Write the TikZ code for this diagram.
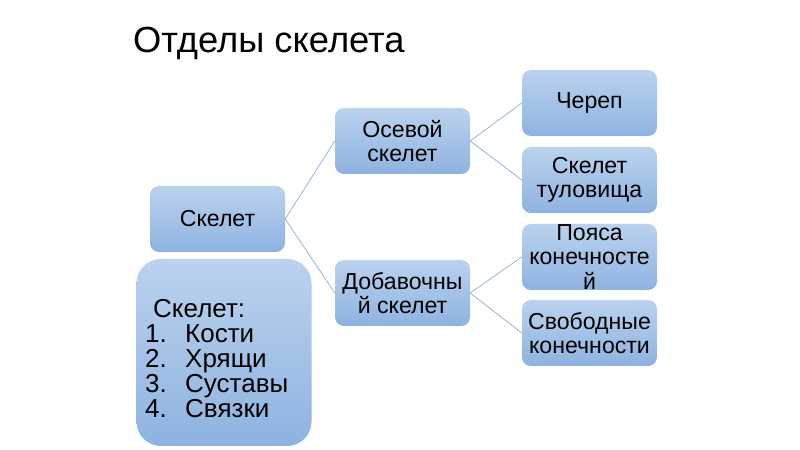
\documentclass[tikz,border=0pt]{standalone}
\usepackage{fontspec}
\setmainfont{Liberation Sans}
\definecolor{boxtop}{HTML}{BBD2EE}
\definecolor{boxbot}{HTML}{8EB3E0}
\definecolor{linkc}{HTML}{94B3D7}
\tikzset{
  box/.style={rounded corners=8pt, top color=boxtop, bottom color=boxbot, draw=none,
    minimum width=121.5pt, minimum height=59.4pt, inner sep=0pt, align=center,
    font=\fontsize{20.8pt}{21.8pt}\selectfont},
  bigbox/.style={rounded corners=22pt, top color=boxtop, bottom color=boxbot, draw=none,
    minimum width=157.5pt, minimum height=168.3pt, inner sep=0pt},
  listtext/.style={anchor=base west, inner sep=0pt, font=\fontsize{23.4pt}{23.4pt}\selectfont},
  link/.style={draw=linkc, line width=0.7pt},
  title/.style={anchor=base west, inner sep=0pt, font=\fontsize{32.7pt}{36pt}\selectfont}
}
\begin{document}
\begin{tikzpicture}[x=0.9pt, y=-0.9pt]
\useasboundingbox (0,0) rectangle (800,450);
\node[title] (t) at (133,53) {Отделы скелета};
\node[box] (skel) at (217.5,219) {Скелет};
\node[box] (ax) at (402.5,141) {Осевой\\скелет};
\node[box] (add) at (402.5,293) {Добавочны\\й скелет};
\node[box] (cr) at (589.5,103) {Череп};
\node[box] (tr) at (589.5,180) {Скелет\\туловища};
\node[box] (po) at (589.5,257) {Пояса\\конечносте\\й};
\node[box] (sv) at (589.5,333) {Свободные\\конечности};
\draw[link] (skel.east) -- (ax.west);
\draw[link] (skel.east) -- (add.west);
\draw[link] (ax.east) -- (cr.west);
\draw[link] (ax.east) -- (tr.west);
\draw[link] (add.east) -- (po.west);
\draw[link] (add.east) -- (sv.west);
\node[bigbox] (big) at (224,352.5) {};
\node[listtext] (l0) at (153,318) {Скелет:};
\node[listtext] (n1) at (145,343) {1.};
\node[listtext] (w1) at (185,343) {Кости};
\node[listtext] (n2) at (145,368) {2.};
\node[listtext] (w2) at (185,368) {Хрящи};
\node[listtext] (n3) at (145,393) {3.};
\node[listtext] (w3) at (185,393) {Суставы};
\node[listtext] (n4) at (145,418) {4.};
\node[listtext] (w4) at (185,418) {Связки};
\end{tikzpicture}
\end{document}
